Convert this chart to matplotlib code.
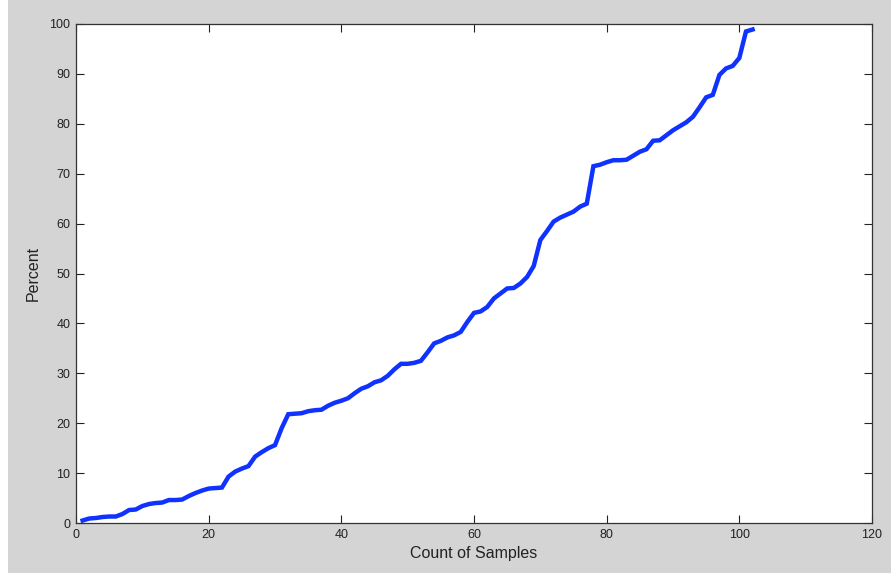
import matplotlib
matplotlib.use("Agg")
from matplotlib import pyplot as plt
from matplotlib.patches import Rectangle
import numpy as np

# samples counted vs cumulative percent
samples = list(range(1, 103))
percent = [0.5, 0.9, 1.0, 1.2, 1.3, 1.3, 1.8, 2.6, 2.7, 3.4,
           3.8, 4.0, 4.1, 4.6, 4.6, 4.7, 5.4, 6.0, 6.5, 6.9,
           7.0, 7.1, 9.3, 10.3, 10.9, 11.4, 13.3, 14.2, 15.0, 15.6,
           19.0, 21.8, 21.9, 22.0, 22.4, 22.6, 22.7, 23.5, 24.1, 24.5,
           25.0, 26.0, 26.9, 27.4, 28.2, 28.6, 29.5, 30.8, 31.9, 31.9,
           32.1, 32.5, 34.2, 36.0, 36.5, 37.2, 37.6, 38.3, 40.3, 42.1,
           42.4, 43.3, 45.0, 46.0, 47.0, 47.1, 48.0, 49.3, 51.5, 56.7,
           58.5, 60.4, 61.2, 61.8, 62.4, 63.4, 64.0, 71.5, 71.8, 72.3,
           72.7, 72.7, 72.8, 73.6, 74.4, 74.9, 76.6, 76.7, 77.7, 78.7,
           79.5, 80.3, 81.4, 83.3, 85.3, 85.8, 89.8, 91.1, 91.6, 93.2,
           98.5, 98.9]
xticks = [0, 20, 40, 60, 80, 100, 120]
yticks = [0, 10, 20, 30, 40, 50, 60, 70, 80, 90, 100]

plt.rcParams['font.family'] = ['Liberation Sans', 'DejaVu Sans']

fig = plt.figure(figsize=(8.91, 5.73), dpi=100, facecolor='#d4d4d4')
# thin white strip on the left edge of the screenshot
fig.patches.append(Rectangle((0, 0), 8 / 891, 1, transform=fig.transFigure,
                             facecolor='white', edgecolor='none', zorder=-1))
ax = fig.add_axes([76 / 891, 50 / 573, 796 / 891, 499 / 573])
ax.plot(samples, percent, color='#0f32ff', linewidth=3.2, solid_joinstyle='miter')

ax.set_xlim(0, 120)
ax.set_ylim(0, 100)
ax.set_xticks(xticks)
ax.set_yticks(yticks)
ax.tick_params(direction='in', length=6, width=0.8, top=True, right=True,
               labelsize=9, pad=4, colors='#222222')
for s in ax.spines.values():
    s.set_linewidth(0.9)
    s.set_color('#333333')
ax.set_xlabel('Count of Samples', fontsize=11.5, labelpad=4, color='#222222')
ax.set_ylabel('Percent', fontsize=11.5, labelpad=6, color='#222222')

fig.savefig('out.png', dpi=100, facecolor=fig.get_facecolor())
